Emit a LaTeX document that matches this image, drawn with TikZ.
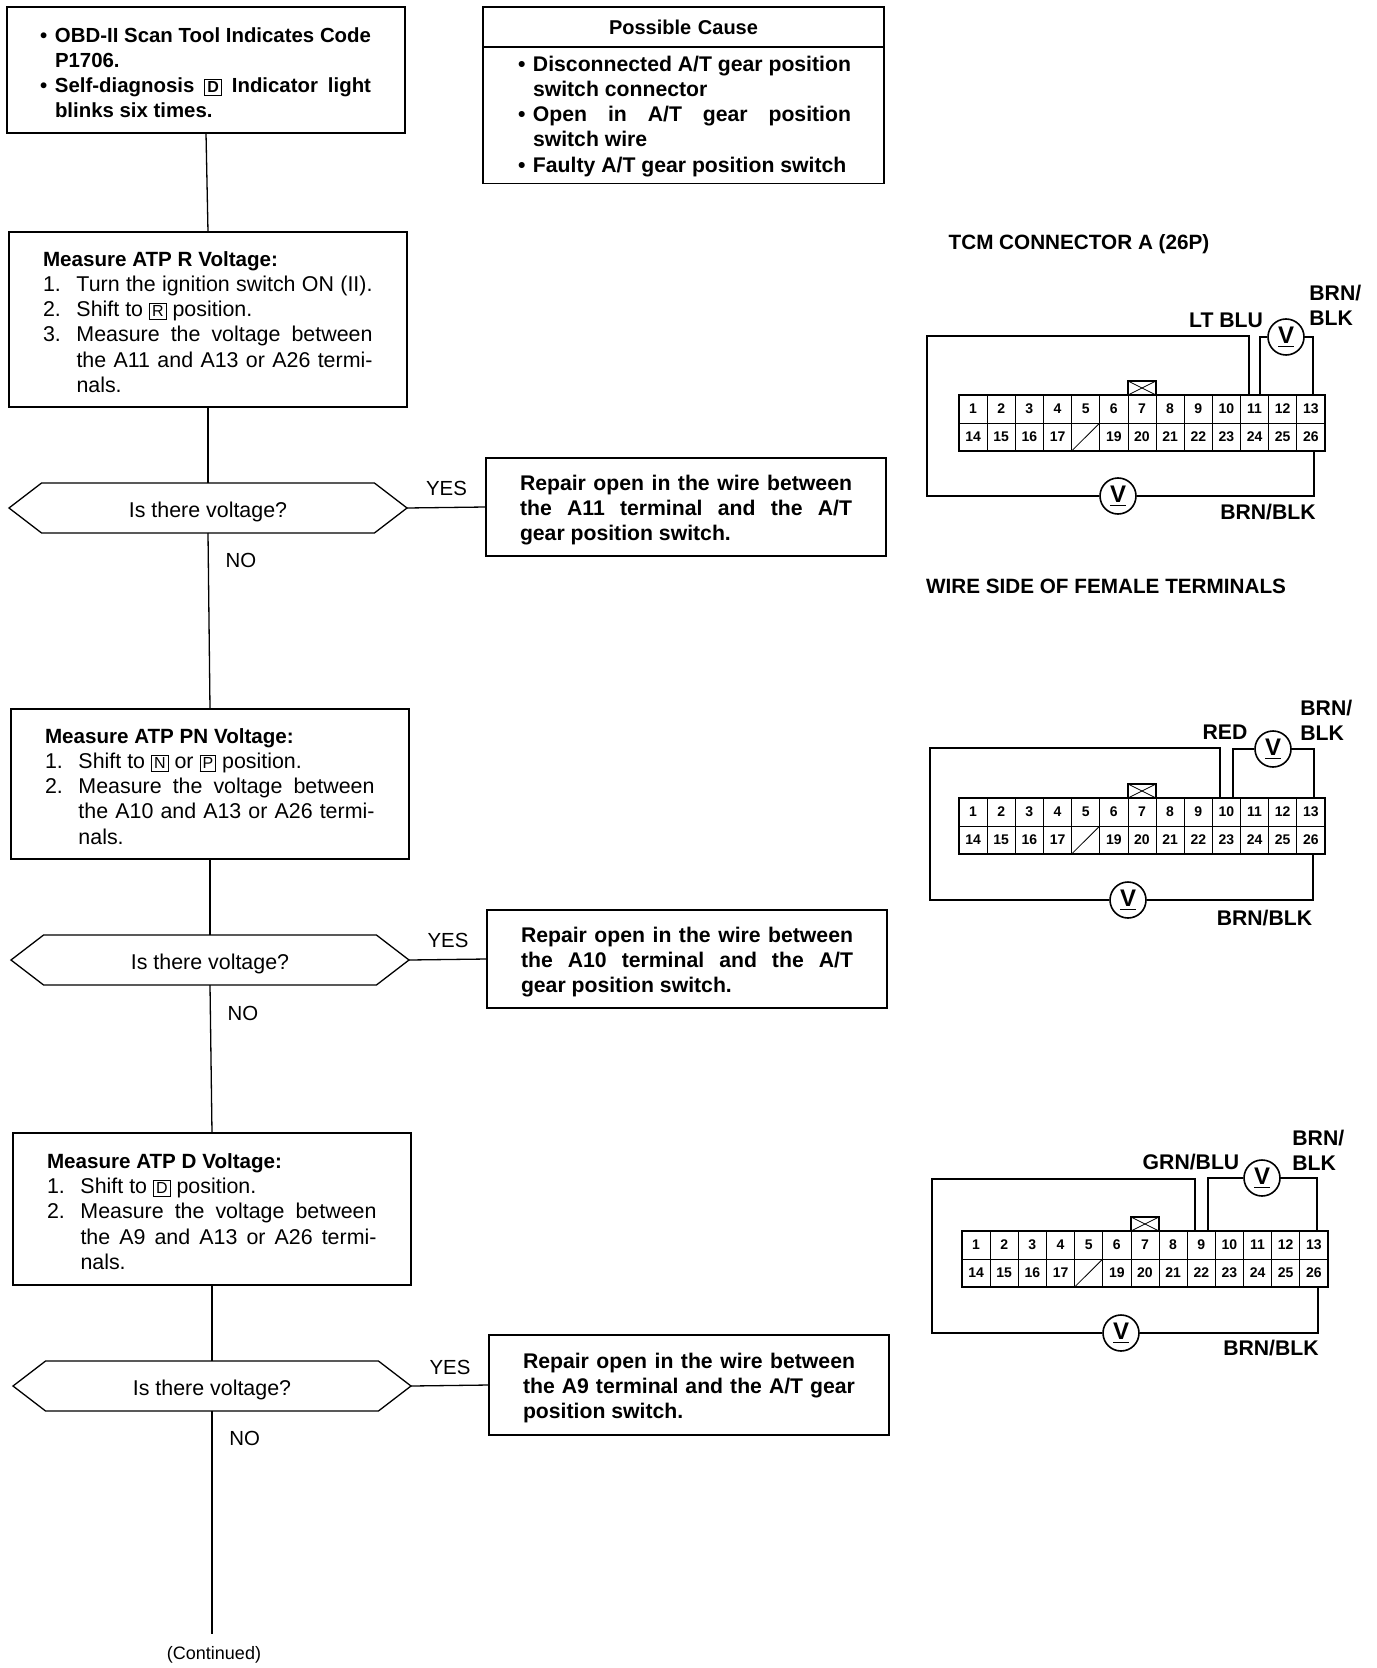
\documentclass[tikz,border=0pt]{standalone}
\usepackage{fontspec}
\setmainfont{Liberation Sans}
\usetikzlibrary{positioning, shapes.symbols}

\newcommand{\stepno}[1]{\makebox[16.75pt][l]{#1}}
\newcommand{\bul}[1]{\makebox[7.5pt][l]{#1}}
\newcommand{\fullline}[2]{\makebox[#1][s]{#2}}
\newcommand{\gearpos}[1]{\smash{\setlength\fboxsep{1pt}\setlength\fboxrule{0.5pt}\fbox{\fontsize{8}{8}\selectfont #1}}}
\newcommand{\boxhead}[1]{\rule{0pt}{10pt}{\fontsize{10.3}{12.55}\selectfont\bfseries #1}}
\newcommand{\tcmgrid}[3]{%
  \foreach \n in {1,...,13}
    \node[cell] (#1-\n) at ({#2+14.07+(\n-1)*28.15},{#3+14}) {\n};
  \foreach \n in {14,15,16,17,19,20,21,22,23,24,25,26}
    \node[cell] (#1-\n) at ({#2+14.07+(\n-14)*28.15},{#3+42}) {\n};
  \node[cell] (#1-18) at ({#2+14.07+4*28.15},{#3+42}) {};
  \draw[thin] (#1-18.south west) -- (#1-18.north east);
  \draw[wire] (#1-1.north west) rectangle (#1-26.south east);
  \node[keybox, above=0pt of #1-7] (#1-k) {};
  \draw[thin] (#1-k.south west) -- (#1-k.north east);
  \draw[thin] (#1-k.north west) -- (#1-k.south east);
}

\begin{document}
\begin{tikzpicture}[
  x=0.5pt, y=-0.5pt,
  flowbox/.style={draw, line width=0.65pt, align=flush left, text width=165pt, inner xsep=17pt, outer sep=0pt, font=\fontsize{10.7}{12.55}\selectfont},
  boldbox/.style={flowbox, text width=166pt, font=\fontsize{10.6}{12.55}\selectfont\bfseries},
  hexa/.style={draw, line width=0.65pt, signal, signal to=west and east, signal pointer angle=75, minimum width=199pt, minimum height=25pt, inner sep=1pt, outer sep=0pt, text height=9pt, text depth=0pt, font=\fontsize{10.7}{12.55}\selectfont},
  flow/.style={line width=0.65pt},
  ans/.style={font=\fontsize{10.2}{12}\selectfont},
  cell/.style={draw, thin, minimum width=14.07pt, minimum height=14pt, inner sep=0pt, outer sep=0pt, font=\fontsize{7}{8}\selectfont\bfseries},
  keybox/.style={draw, line width=1pt, minimum width=14pt, minimum height=7pt, inner sep=0pt, outer sep=0pt},
  wire/.style={line width=0.95pt},
  meter/.style={draw, circle, line width=0.8pt, minimum size=18pt, inner sep=0pt, font=\fontsize{12}{12}\selectfont\bfseries},
  wirelabel/.style={align=left, inner sep=0pt, font=\fontsize{10.6}{12.5}\selectfont\bfseries},
  headline/.style={inner sep=0pt, font=\fontsize{10.35}{12.5}\selectfont\bfseries}
]
  \useasboundingbox (0,0) rectangle (1376,1668);

  \node[boldbox, anchor=north west, minimum height=63pt, text width=166pt, inner xsep=16.5pt, font=\fontsize{10.2}{12.55}\selectfont\bfseries] (fault) at (7,7)
    {\rule{0pt}{10.3pt}\bul{•}\fullline{158pt}{OBD-II Scan Tool Indicates Code}\\ \bul{}P1706.\\ \bul{•}\fullline{158pt}{Self-diagnosis \gearpos{D} Indicator light}\\ \bul{}blinks six times.};

  \node[boldbox, anchor=north west, text width=164.5pt, inner xsep=18pt, minimum height=20pt, align=center, font=\fontsize{10}{12}\selectfont\bfseries] (causetitle) at ([xshift=39pt]fault.north east) {Possible Cause};
  \node[boldbox, below=0pt of causetitle, text width=165.5pt, inner xsep=17.5pt, minimum height=68pt] (cause)
    {\rule{0pt}{9pt}\bul{•}\fullline{159pt}{Disconnected A/T gear position}\\ \bul{}switch connector\\ \bul{•}\fullline{159pt}{Open in A/T gear position}\\ \bul{}switch wire\\ \bul{•}Faulty A/T gear position switch};

  \node[flowbox, below=49.5pt of fault, xshift=1pt, minimum height=87.5pt] (rvolt)
    {\boxhead{Measure ATP R Voltage:}\\ \stepno{1.}\fullline{148pt}{Turn the ignition switch ON (II).}\\ \stepno{2.}Shift to \gearpos{R} position.\\ \stepno{3.}\fullline{148pt}{Measure the voltage between}\\ \stepno{}\fullline{148pt}{the A11 and A13 or A26 termi-}\\ \stepno{}nals.};
  \node[hexa, below=38pt of rvolt] (d1) {Is there voltage?};
  \node[boldbox, right=39.5pt of d1, yshift=.5pt, minimum height=49pt] (rep1)
    {\rule{0pt}{10.9pt}\fullline{166pt}{Repair open in the wire between}\\ \fullline{166pt}{the A11 terminal and the A/T}\\ gear position switch.};

  \node[flowbox, below=88pt of d1, xshift=1pt, minimum height=75pt] (pnvolt)
    {\boxhead{Measure ATP PN Voltage:}\\ \stepno{1.}Shift to \gearpos{N} or \gearpos{P} position.\\ \stepno{2.}\fullline{148pt}{Measure the voltage between}\\ \stepno{}\fullline{148pt}{the A10 and A13 or A26 termi-}\\ \stepno{}nals.};
  \node[hexa, below=38pt of pnvolt] (d2) {Is there voltage?};
  \node[boldbox, right=39pt of d2, yshift=.5pt, minimum height=49pt] (rep2)
    {\rule{0pt}{10.9pt}\fullline{166pt}{Repair open in the wire between}\\ \fullline{166pt}{the A10 terminal and the A/T}\\ gear position switch.};

  \node[flowbox, below=74pt of d2, xshift=1pt, minimum height=76pt] (dvolt)
    {\boxhead{Measure ATP D Voltage:}\\ \stepno{1.}Shift to \gearpos{D} position.\\ \stepno{2.}\fullline{148pt}{Measure the voltage between}\\ \stepno{}\fullline{148pt}{the A9 and A13 or A26 termi-}\\ \stepno{}nals.};
  \node[hexa, below=38pt of dvolt] (d3) {Is there voltage?};
  \node[boldbox, right=39pt of d3, yshift=.5pt, minimum height=50pt] (rep3)
    {\rule{0pt}{10.9pt}\fullline{166pt}{Repair open in the wire between}\\ \fullline{166pt}{the A9 terminal and the A/T gear}\\ position switch.};

  \coordinate[below=111.5pt of d3.south] (contend);
  \node[below=4pt of contend, xshift=1pt, inner sep=2pt, font=\fontsize{9}{10}\selectfont] (contnote) {(Continued)};

  \draw[flow] (fault.south) -- (rvolt.north);
  \draw[flow] (rvolt.south) -- (d1.north);
  \draw[flow] (d1.east) -- node[ans, above=2pt] (yes1) {YES} (rep1.west);
  \draw[flow] (d1.south) -- node[ans, pos=.155, right=5pt] (no1) {NO} (pnvolt.north);
  \draw[flow] (pnvolt.south) -- (d2.north);
  \draw[flow] (d2.east) -- node[ans, above=2pt] (yes2) {YES} (rep2.west);
  \draw[flow] (d2.south) -- node[ans, pos=.19, right=5pt] (no2) {NO} (dvolt.north);
  \draw[flow] (dvolt.south) -- (d3.north);
  \draw[flow] (d3.east) -- node[ans, above=2pt] (yes3) {YES} (rep3.west);
  \draw[flow] (d3.south) -- node[ans, pos=.125, right=5pt] (no3) {NO} (contend);

  \node[headline] (tcm) at (1079,244) {TCM CONNECTOR A (26P)};
  \node[headline] (wireside) at (1106,586) {WIRE SIDE OF FEMALE TERMINALS};

  \tcmgrid{a}{959}{395}
  \node[meter] (a-mt) at (1286,337) {\underline{V}};
  \node[meter] (a-mb) at (1118,496) {\underline{V}};
  \coordinate (a-lp) at (927,336);
  \draw[wire] ([xshift=-3pt]a-11.north) |- (a-lp) -- (a-lp |- a-mb) -- (a-mb);
  \draw[wire] (a-mt) -| ([xshift=2.5pt]a-11.north);
  \draw[wire] (a-mt) -| ([xshift=1pt]a-13.north);
  \draw[wire] (a-mb) -| ([xshift=1.5pt]a-26.south);
  \node[wirelabel] (a-lt) at (1226,320) {LT BLU};
  \node[wirelabel, anchor=west] (a-br) at (1309,305.5) {BRN/\\BLK};
  \node[wirelabel] (a-bb) at (1268,512) {BRN/BLK};

  \tcmgrid{b}{959}{798}
  \node[meter] (b-mt) at (1273,749) {\underline{V}};
  \node[meter] (b-mb) at (1128,900) {\underline{V}};
  \coordinate (b-lp) at (930,748);
  \draw[wire] ([xshift=-3pt]b-10.north) |- (b-lp) -- (b-lp |- b-mb) -- (b-mb);
  \draw[wire] (b-mt) -| ([xshift=3.5pt]b-10.north);
  \draw[wire] (b-mt) -| ([xshift=1.5pt]b-13.north);
  \draw[wire] (b-mb) -| ([xshift=1pt]b-26.south);
  \node[wirelabel] (b-red) at (1225,732) {RED};
  \node[wirelabel, anchor=west] (b-br) at (1300,720.5) {BRN/\\BLK};
  \node[wirelabel] (b-bb) at (1264.5,918) {BRN/BLK};

  \tcmgrid{c}{962}{1231}
  \node[meter] (c-mt) at (1262,1178) {\underline{V}};
  \node[meter] (c-mb) at (1121,1333) {\underline{V}};
  \coordinate (c-lp) at (932,1179);
  \draw[wire] ([xshift=-3pt]c-9.north) |- (c-lp) -- (c-lp |- c-mb) -- (c-mb);
  \draw[wire] (c-mt) -| ([xshift=3.5pt]c-9.north);
  \draw[wire] (c-mt) -| ([xshift=1.5pt]c-13.north);
  \draw[wire] (c-mb) -| ([xshift=2pt]c-26.south);
  \node[wirelabel] (c-grn) at (1191,1162) {GRN/BLU};
  \node[wirelabel, anchor=west] (c-br) at (1292,1150.5) {BRN/\\BLK};
  \node[wirelabel] (c-bb) at (1271,1348) {BRN/BLK};
\end{tikzpicture}
\end{document}
